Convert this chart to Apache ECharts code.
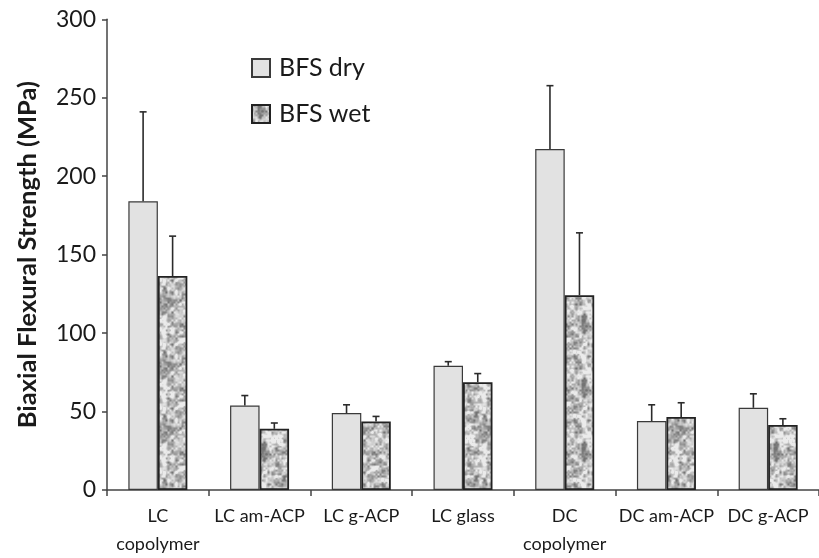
<!DOCTYPE html>
<html>
<head>
<meta charset="utf-8">
<script src="https://cdn.jsdelivr.net/npm/echarts@6/dist/echarts.min.js"></script>
<style>
  html, body { margin: 0; padding: 0; background: #fff; }
  #chart { width: 819px; height: 558px; }
</style>
</head>
<body>
<div id="chart"></div>
<script>
// Biaxial flexural strength, dry vs wet, mean and standard deviation (MPa)
const categories = ['LC\ncopolymer', 'LC am-ACP', 'LC g-ACP', 'LC glass', 'DC\ncopolymer', 'DC am-ACP', 'DC g-ACP'];
const dryMean = [184, 53.8, 49.0, 79.2, 217.3, 43.9, 52.4];
const drySD   = [57, 6.4, 5.3, 2.6, 40.4, 10.4, 8.9];
const wetMean = [136.4, 39.0, 43.7, 68.7, 124.1, 46.5, 41.4];
const wetSD   = [25.4, 3.7, 3.2, 5.5, 39.8, 9.1, 4.0];
const yTicks  = { min: 0, max: 300, interval: 50 };

const FONT = 'Lato, "Open Sans", sans-serif';
const BAR_W = 29.5;

// Speckled grey fill for the wet bars (deterministic value noise)
function makeMottle(size) {
  const c = document.createElement('canvas');
  c.width = size; c.height = size;
  const ctx = c.getContext('2d');
  const img = ctx.createImageData(size, size);
  function hash(x, y, s) {
    const h = Math.sin(x * 127.1 + y * 311.7 + s * 74.7) * 43758.5453;
    return h - Math.floor(h);
  }
  function smooth(t) { return t * t * (3 - 2 * t); }
  function noise(px, py, cell, s) {
    const n = size / cell;
    const gx = px / cell, gy = py / cell;
    const x0 = Math.floor(gx), y0 = Math.floor(gy);
    const fx = smooth(gx - x0), fy = smooth(gy - y0);
    const a = hash(x0 % n, y0 % n, s), b = hash((x0 + 1) % n, y0 % n, s);
    const c2 = hash(x0 % n, (y0 + 1) % n, s), d = hash((x0 + 1) % n, (y0 + 1) % n, s);
    return (a * (1 - fx) + b * fx) * (1 - fy) + (c2 * (1 - fx) + d * fx) * fy;
  }
  for (let y = 0; y < size; y++) {
    for (let x = 0; x < size; x++) {
      let v = 0.5 * noise(x, y, 4, 1) + 0.35 * noise(x, y, 2, 2) + 0.15 * noise(x, y, 8, 3);
      v = Math.max(0, Math.min(1, (v - 0.5) * 2.0 + 0.62));
      const g = Math.round(115 + v * 120);
      const i = (y * size + x) * 4;
      img.data[i] = g; img.data[i + 1] = g; img.data[i + 2] = g; img.data[i + 3] = 255;
    }
  }
  ctx.putImageData(img, 0, 0);
  return c;
}
const mottle = makeMottle(64);

// Upper error whisker with cap, drawn above the matching bar
function whisker(side) {
  return function (params, api) {
    const i = api.value(0), m = api.value(1), sd = api.value(2);
    const p0 = api.coord([i, m]);
    const p1 = api.coord([i, m + sd]);
    const x = p0[0] + side * BAR_W / 2;
    const style = { stroke: '#2b2b2b', lineWidth: 1.6 };
    return {
      type: 'group',
      children: [
        { type: 'line', shape: { x1: x, y1: p0[1], x2: x, y2: p1[1] }, style },
        { type: 'line', shape: { x1: x - 3.5, y1: p1[1], x2: x + 3.5, y2: p1[1] }, style }
      ]
    };
  };
}

const chart = echarts.init(document.getElementById('chart'));
chart.setOption({
  animation: false,
  backgroundColor: '#ffffff',
  textStyle: { fontFamily: FONT },
  grid: { left: 107, top: 19.3, width: 720, height: 472.2, containLabel: false },
  legend: {
    left: 251, top: 54, padding: 0,
    orient: 'vertical',
    itemWidth: 18, itemHeight: 18, itemGap: 18,
    icon: 'rect',
    data: ['BFS dry', 'BFS wet'],
    textStyle: { fontFamily: FONT, fontSize: 25, lineHeight: 28, color: '#1a1a1a', padding: [0, 0, 0, 4] }
  },
  xAxis: {
    type: 'category',
    data: categories,
    axisLine: { lineStyle: { color: '#444', width: 1.5 } },
    axisTick: { show: true, alignWithLabel: false, length: 6, lineStyle: { color: '#444', width: 1.5 } },
    axisLabel: { fontFamily: FONT, fontSize: 18, color: '#1a1a1a', margin: 12, lineHeight: 28, interval: 0 }
  },
  yAxis: {
    type: 'value',
    min: yTicks.min, max: yTicks.max, interval: yTicks.interval,
    name: 'Biaxial Flexural Strength (MPa)',
    nameLocation: 'middle',
    nameRotate: 90,
    nameGap: 66,
    nameTextStyle: { fontFamily: FONT, fontSize: 25.5, fontWeight: 'bold', color: '#1a1a1a' },
    axisLine: { show: true, lineStyle: { color: '#444', width: 1.5 } },
    axisTick: { show: true, length: 5, lineStyle: { color: '#444', width: 1.5 } },
    axisLabel: { fontFamily: FONT, fontSize: 23, color: '#1a1a1a', margin: 11 },
    splitLine: { show: false }
  },
  series: [
    {
      name: 'BFS dry', type: 'bar', data: dryMean,
      barWidth: BAR_W, barGap: '0%',
      itemStyle: { color: '#e2e2e2', borderColor: '#3a3a3a', borderWidth: 1.2 }
    },
    {
      name: 'BFS wet', type: 'bar', data: wetMean,
      barWidth: BAR_W, barGap: '0%',
      itemStyle: { color: { image: mottle, repeat: 'repeat' }, borderColor: '#222', borderWidth: 1.8 }
    },
    {
      type: 'custom', name: 'dry SD', renderItem: whisker(-1), z: 3,
      data: dryMean.map((m, i) => [i, m, drySD[i]]), encode: { x: 0, y: 1 }, silent: true
    },
    {
      type: 'custom', name: 'wet SD', renderItem: whisker(1), z: 3,
      data: wetMean.map((m, i) => [i, m, wetSD[i]]), encode: { x: 0, y: 1 }, silent: true
    }
  ]
});
</script>
</body>
</html>
